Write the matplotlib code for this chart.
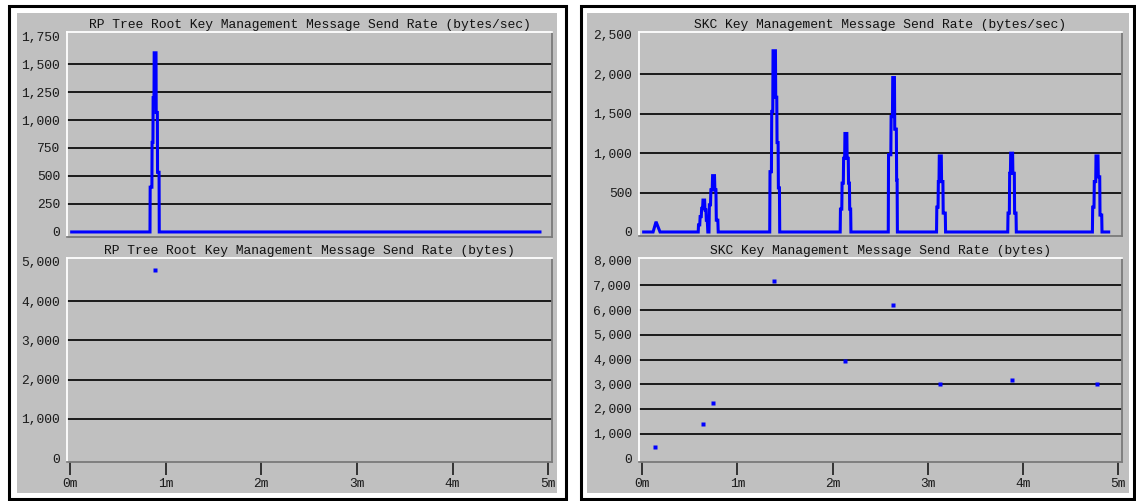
import matplotlib
matplotlib.use("Agg")
import matplotlib.pyplot as plt
from matplotlib.patches import Rectangle
from matplotlib.ticker import FixedLocator, FuncFormatter

# ---------------------------------------------------------------- data
# RP Tree Root: send rate (bytes/sec) vertices, time in minutes
rp_rate_t = [0.0, 0.835, 0.837, 0.855, 0.857, 0.866, 0.868, 0.877, 0.879,
             0.898, 0.900, 0.912, 0.914, 0.930, 0.932, 4.93]
rp_rate_v = [0, 0, 400, 400, 800, 800, 1200, 1200, 1600,
             1600, 1067, 1067, 533, 533, 0, 0]

# RP Tree Root: send rate (bytes)
rp_bytes_t = [0.89]
rp_bytes_v = [4800]

# SKC: send rate (bytes/sec) vertices, time in minutes
skc_rate_t = [0.0,
              0.115, 0.146, 0.188,
              0.589, 0.592, 0.605, 0.609, 0.621, 0.625, 0.635, 0.639, 0.656,
              0.660, 0.670, 0.674, 0.684, 0.690,
              0.702, 0.706, 0.718, 0.722, 0.736, 0.740, 0.760, 0.764, 0.775,
              0.779, 0.795, 0.799,
              1.340, 1.343, 1.358, 1.361, 1.372, 1.375, 1.400, 1.403, 1.414,
              1.417, 1.428, 1.431, 1.442, 1.445,
              2.080, 2.083, 2.097, 2.100, 2.113, 2.116, 2.127, 2.130, 2.150,
              2.153, 2.165, 2.168, 2.177, 2.180, 2.190, 2.193,
              2.585, 2.588, 2.612, 2.615, 2.629, 2.632, 2.650, 2.653, 2.670,
              2.673, 2.678, 2.681,
              3.092, 3.095, 3.108, 3.111, 3.118, 3.121, 3.142, 3.145, 3.159,
              3.162, 3.184, 3.187,
              3.840, 3.843, 3.857, 3.860, 3.868, 3.871, 3.891, 3.894, 3.909,
              3.912, 3.927, 3.930,
              4.729, 4.732, 4.746, 4.749, 4.764, 4.767, 4.788, 4.791, 4.806,
              4.809, 4.827, 4.830,
              4.916]
skc_rate_v = [0,
              0, 130, 0,
              0, 90, 90, 195, 195, 300, 300, 405, 405,
              280, 280, 150, 150, 0,
              0, 345, 345, 535, 535, 715, 715, 535, 535,
              150, 150, 0,
              0, 765, 765, 1530, 1530, 2300, 2300, 1710, 1710,
              1135, 1135, 560, 560, 0,
              0, 290, 290, 620, 620, 935, 935, 1250, 1250,
              935, 935, 620, 620, 290, 290, 0,
              0, 980, 980, 1465, 1465, 1960, 1960, 1305, 1305,
              660, 660, 0,
              0, 315, 315, 640, 640, 965, 965, 640, 640,
              240, 240, 0,
              0, 240, 240, 745, 745, 1000, 1000, 745, 745,
              240, 240, 0,
              0, 315, 315, 640, 640, 965, 965, 700, 700,
              215, 215, 0,
              0]

# SKC: send rate (bytes)
skc_bytes_t = [0.14, 0.64, 0.74, 1.38, 2.135, 2.635, 3.13, 3.88, 4.775]
skc_bytes_v = [470, 1390, 2250, 7160, 3920, 6190, 3000, 3160, 3000]

time_ticks = [0, 1, 2, 3, 4, 5]
time_labels = ["0m", "1m", "2m", "3m", "4m", "5m"]

rp_rate_ticks = [0, 250, 500, 750, 1000, 1250, 1500, 1750]
rp_bytes_ticks = [0, 1000, 2000, 3000, 4000, 5000]
skc_rate_ticks = [0, 500, 1000, 1500, 2000, 2500]
skc_bytes_ticks = [0, 1000, 2000, 3000, 4000, 5000, 6000, 7000, 8000]

titles = {
    "rp_rate": "RP Tree Root Key Management Message Send Rate (bytes/sec)",
    "rp_bytes": "RP Tree Root Key Management Message Send Rate (bytes)",
    "skc_rate": "SKC Key Management Message Send Rate (bytes/sec)",
    "skc_bytes": "SKC Key Management Message Send Rate (bytes)",
}

# ---------------------------------------------------------------- style
W, H = 1136, 501
FONT = "Liberation Mono"
FS = 9.4
PANEL_GRAY = "#c0c0c0"
BLUE = "#0000ff"

fig = plt.figure(figsize=(W / 100, H / 100), dpi=100)
fig.patch.set_facecolor("white")


def px_rect(x0, y0, x1, y1):
    """Pixel box (top-left origin) -> figure fraction [l, b, w, h]."""
    return [x0 / W, 1 - y1 / H, (x1 - x0) / W, (y1 - y0) / H]


def add_panel(gx0, gx1, bx0, bx1):
    l, b, w, h = px_rect(gx0, 13, gx1, 493)
    fig.add_artist(Rectangle((l, b), w, h, transform=fig.transFigure,
                             facecolor=PANEL_GRAY, edgecolor="none", zorder=-2))
    l, b, w, h = px_rect(bx0, 5.5, bx1, 498.5)
    fig.add_artist(Rectangle((l, b), w, h, transform=fig.transFigure,
                             facecolor="none", edgecolor="black",
                             linewidth=2.2, zorder=-1))


add_panel(17, 557, 8.5, 565.5)
add_panel(587, 1129, 580.5, 1133.5)


def make_axes(box, title, yticks, ylim, show_x):
    ax = fig.add_axes(px_rect(*box))
    ax.set_facecolor(PANEL_GRAY)
    for side, col in (("top", "white"), ("left", "white"),
                      ("right", "#7a7a7a"), ("bottom", "#7a7a7a")):
        ax.spines[side].set_color(col)
        ax.spines[side].set_linewidth(1.3)
    ax.set_xlim(-0.033, 5.04)
    ax.set_ylim(*ylim)
    ax.yaxis.set_major_locator(FixedLocator(yticks))
    ax.yaxis.set_major_formatter(FuncFormatter(lambda v, _: f"{v:,.0f}"))
    ax.tick_params(axis="y", length=0, pad=5, labelsize=FS,
                   labelcolor="#1a1a1a")
    for lab in ax.get_yticklabels():
        lab.set_fontfamily(FONT)
    # horizontal rules at the interior ticks only
    for v in yticks[1:-1]:
        ax.axhline(v, color="#1a1a1a", linewidth=1.4, zorder=1)
    ax.xaxis.set_major_locator(FixedLocator(time_ticks))
    if show_x:
        ax.set_xticklabels(time_labels, fontfamily=FONT, fontsize=FS,
                           color="#1a1a1a")
        ax.tick_params(axis="x", direction="out", length=9.5, width=1.4,
                       color="#333333", pad=2)
    else:
        ax.tick_params(axis="x", bottom=False, labelbottom=False)
    ax.set_title(title, fontfamily=FONT, fontsize=FS, color="#111111", pad=3)
    return ax


ax_rp_rate = make_axes((67, 32, 552, 237), titles["rp_rate"],
                       rp_rate_ticks, (-45, 1786), False)
ax_rp_bytes = make_axes((67, 258, 552, 462), titles["rp_bytes"],
                        rp_bytes_ticks, (-102, 5102), True)
ax_skc_rate = make_axes((639, 32, 1122, 236), titles["skc_rate"],
                        skc_rate_ticks, (-51, 2538), False)
ax_skc_bytes = make_axes((639, 258, 1122, 462), titles["skc_bytes"],
                         skc_bytes_ticks, (-150, 8110), True)

line_kw = dict(color=BLUE, linewidth=2.2, solid_joinstyle="miter",
               solid_capstyle="butt", zorder=3)
ax_rp_rate.plot(rp_rate_t, rp_rate_v, **line_kw)
ax_skc_rate.plot(skc_rate_t, skc_rate_v, **line_kw)

dot_kw = dict(linestyle="none", marker="s", markersize=3.0,
              markerfacecolor=BLUE, markeredgecolor="none", zorder=3)
ax_rp_bytes.plot(rp_bytes_t, rp_bytes_v, **dot_kw)
ax_skc_bytes.plot(skc_bytes_t, skc_bytes_v, **dot_kw)

fig.savefig("out.png", dpi=100, facecolor=fig.get_facecolor())
